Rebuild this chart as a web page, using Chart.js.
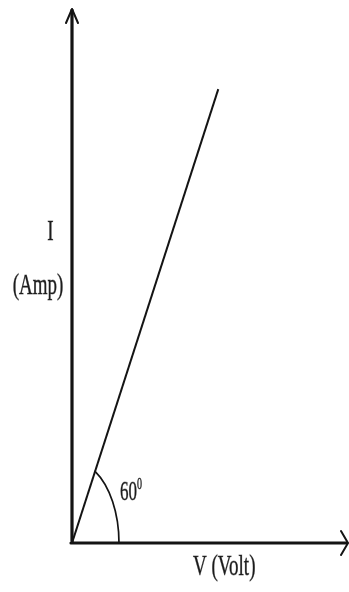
<!DOCTYPE html>
<html>
<head>
<meta charset="utf-8">
<script src="https://cdn.jsdelivr.net/npm/chart.js@4"></script>
<style>
  html, body { margin: 0; padding: 0; background: #fff; }
  #wrap { width: 349px; height: 592px; position: relative; }
</style>
</head>
<body>
<div id="wrap"><canvas id="viChart"></canvas></div>
<script>
// V-I line through the origin
const voltage = [0, 5.3];
const current = [0, 8.5];
const angleLabel = '60';
const xLabel = 'V (Volt)';
const yLabel = ['I', '(Amp)'];

const ink = '#141414';
const stretch = 1.6; // text is drawn tall and narrow like the scan

function tallText(ctx, txt, x, y, size, align) {
  ctx.save();
  ctx.translate(x, y);
  ctx.scale(1, stretch);
  ctx.font = size + 'px "Liberation Serif", "Times New Roman", serif';
  ctx.textAlign = align || 'left';
  ctx.textBaseline = 'middle';
  ctx.fillStyle = '#1c1c1c';
  ctx.strokeStyle = 'rgba(28,28,28,0.5)';
  ctx.lineWidth = 0.5;
  ctx.fillText(txt, 0, 0);
  ctx.strokeText(txt, 0, 0);
  ctx.restore();
}

const axesPlugin = {
  id: 'axesPlugin',
  afterDatasetsDraw(chart) {
    const ctx = chart.ctx;
    const xs = chart.scales.x, ys = chart.scales.y;
    const ox = xs.getPixelForValue(0), oy = ys.getPixelForValue(0);
    const right = xs.getPixelForValue(xs.max);
    const top = ys.getPixelForValue(ys.max);

    ctx.save();
    ctx.strokeStyle = ink;
    ctx.lineCap = 'round';
    ctx.lineJoin = 'round';

    // axes
    ctx.lineWidth = 3.2;
    ctx.beginPath();
    ctx.moveTo(ox, oy);
    ctx.lineTo(ox, top + 1);
    ctx.moveTo(ox - 1, oy);
    ctx.lineTo(right - 1, oy);
    ctx.stroke();

    // arrow heads
    ctx.lineWidth = 2;
    ctx.beginPath();
    ctx.moveTo(ox - 6, top + 14);
    ctx.lineTo(ox, top);
    ctx.lineTo(ox + 6, top + 14);
    ctx.moveTo(right - 7, oy - 12);
    ctx.lineTo(right, oy);
    ctx.lineTo(right - 7, oy + 12);
    ctx.stroke();

    // angle arc between V axis and the line
    const ex = xs.getPixelForValue(voltage[1]) - ox;
    const ey = oy - ys.getPixelForValue(current[1]);
    const rx = 47, ry = 47 * 1.75;
    const th = Math.atan2(ey / ry, ex / rx);
    ctx.lineWidth = 1.7;
    ctx.beginPath();
    ctx.ellipse(ox, oy, rx, ry, 0, -th, 0);
    ctx.stroke();
    ctx.restore();

    // labels
    tallText(ctx, yLabel[0], ox - 21.5, 232, 19, 'center');
    tallText(ctx, yLabel[1], ox - 34, 286, 19, 'center');
    tallText(ctx, angleLabel, ox + 48, oy - 50, 17, 'left');
    tallText(ctx, '0', ox + 65, oy - 58, 10, 'left');
    tallText(ctx, xLabel, ox + 121, oy + 24, 19, 'left');
  }
};

new Chart(document.getElementById('viChart'), {
  type: 'scatter',
  data: {
    datasets: [{
      data: voltage.map((v, i) => ({ x: v, y: current[i] })),
      showLine: true,
      borderColor: ink,
      borderWidth: 2,
      pointRadius: 0,
      fill: false
    }]
  },
  options: {
    responsive: true,
    maintainAspectRatio: false,
    animation: false,
    layout: { padding: { left: 72, right: 1, top: 9, bottom: 49 } },
    plugins: {
      legend: { display: false },
      tooltip: { enabled: false }
    },
    scales: {
      x: { type: 'linear', min: 0, max: 10, display: false },
      y: { type: 'linear', min: 0, max: 10, display: false }
    }
  },
  plugins: [axesPlugin]
});
</script>
</body>
</html>
